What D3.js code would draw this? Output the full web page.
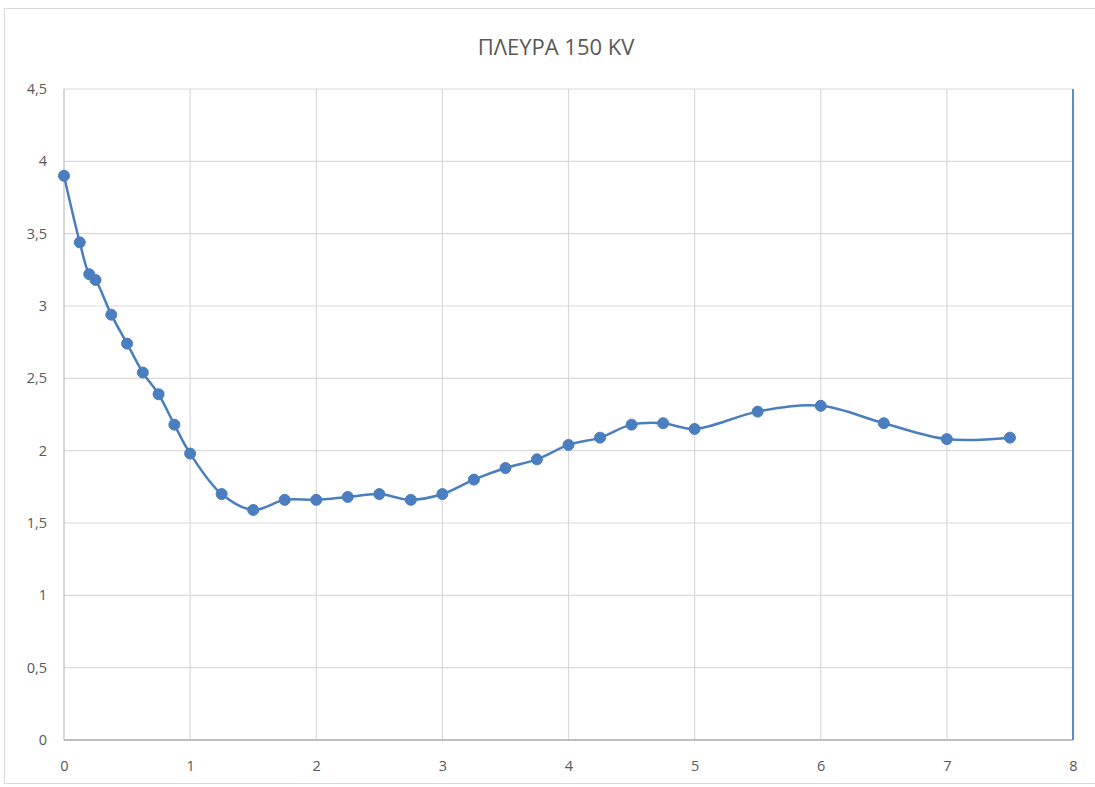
<!DOCTYPE html>
<html>
<head>
<meta charset="utf-8">
<script src="https://cdn.jsdelivr.net/npm/d3@7/dist/d3.min.js"></script>
<style>
  body { margin: 0; background: #fff; }
  svg { display: block; font-family: "Open Sans", "Liberation Sans", sans-serif; }
</style>
</head>
<body>
<div id="chart"></div>
<script>
  var title = "ΠΛΕΥΡΑ 150 KV";
  var xValues = [0, 0.125, 0.2, 0.25, 0.375, 0.5, 0.625, 0.75, 0.875, 1,
    1.25, 1.5, 1.75, 2, 2.25, 2.5, 2.75, 3, 3.25, 3.5, 3.75, 4, 4.25,
    4.5, 4.75, 5, 5.5, 6, 6.5, 7, 7.5];
  var yValues = [3.9, 3.44, 3.22, 3.18, 2.94, 2.74, 2.54, 2.39, 2.18, 1.98,
    1.7, 1.59, 1.66, 1.66, 1.68, 1.7, 1.66, 1.7, 1.8, 1.88, 1.94, 2.04, 2.09,
    2.18, 2.19, 2.15, 2.27, 2.31, 2.19, 2.08, 2.09];
  var xTicks = [0, 1, 2, 3, 4, 5, 6, 7, 8];
  var yTicks = [0, 0.5, 1, 1.5, 2, 2.5, 3, 3.5, 4, 4.5];

  var W = 1095, H = 787;
  var margin = { left: 64, right: 22, top: 89, bottom: 47 };
  var blue = "#4a7ebf";

  var svg = d3.select("#chart").append("svg")
    .attr("width", W)
    .attr("height", H);

  // outer chart frame
  svg.append("rect")
    .attr("x", 4.5).attr("y", 8.5)
    .attr("width", W + 10).attr("height", H - 12)
    .attr("fill", "none")
    .attr("stroke", "#d9d9d9");

  var x = d3.scaleLinear().domain([0, 8]).range([margin.left, W - margin.right]);
  var y = d3.scaleLinear().domain([0, 4.5]).range([H - margin.bottom, margin.top]);

  svg.append("text")
    .attr("x", 556).attr("y", 55)
    .attr("text-anchor", "middle")
    .attr("fill", "#595959")
    .style("font-size", "22px")
    .text(title);

  var grid = svg.append("g");
  grid.selectAll(".hg")
    .data(yTicks.filter(function (d) { return d > 0; }))
    .enter().append("line")
    .attr("x1", x(0)).attr("x2", x(8))
    .attr("y1", function (d) { return y(d); })
    .attr("y2", function (d) { return y(d); })
    .attr("stroke", "#d9d9d9")
    .attr("stroke-width", 1.2);
  grid.selectAll(".vg")
    .data(xTicks.filter(function (d) { return d > 0 && d < 8; }))
    .enter().append("line")
    .attr("x1", function (d) { return x(d); })
    .attr("x2", function (d) { return x(d); })
    .attr("y1", y(4.5)).attr("y2", y(0))
    .attr("stroke", "#d9d9d9")
    .attr("stroke-width", 1.2);

  // axes lines
  svg.append("line")
    .attr("x1", x(0)).attr("x2", x(0))
    .attr("y1", y(4.5)).attr("y2", y(0))
    .attr("stroke", "#c8c8c8").attr("stroke-width", 1.5);
  svg.append("line")
    .attr("x1", x(0)).attr("x2", x(8))
    .attr("y1", y(0)).attr("y2", y(0))
    .attr("stroke", "#bfbfbf").attr("stroke-width", 2);
  svg.append("line")
    .attr("x1", x(8)).attr("x2", x(8))
    .attr("y1", y(4.5)).attr("y2", y(0))
    .attr("stroke", "#5b8ad0").attr("stroke-width", 2);

  var fmt = function (d) { return String(d).replace(".", ","); };

  var xAxis = svg.append("g")
    .attr("transform", "translate(0," + y(0) + ")")
    .call(d3.axisBottom(x).tickValues(xTicks).tickSize(0).tickPadding(21).tickFormat(fmt));
  var yAxis = svg.append("g")
    .attr("transform", "translate(" + x(0) + ",0)")
    .call(d3.axisLeft(y).tickValues(yTicks).tickSize(0).tickPadding(17).tickFormat(fmt));
  [xAxis, yAxis].forEach(function (a) {
    a.select(".domain").remove();
    a.selectAll("text")
      .attr("fill", "#595959")
      .style("font-size", "14.5px")
      .style("font-family", "\"Open Sans\", \"Liberation Sans\", sans-serif");
  });

  var pts = xValues.map(function (d, i) { return [d, yValues[i]]; });

  var line = d3.line()
    .x(function (d) { return x(d[0]); })
    .y(function (d) { return y(d[1]); })
    .curve(d3.curveCatmullRom.alpha(0.5));

  svg.append("path")
    .datum(pts)
    .attr("d", line)
    .attr("fill", "none")
    .attr("stroke", blue)
    .attr("stroke-width", 2.5);

  svg.append("g").selectAll("circle")
    .data(pts)
    .enter().append("circle")
    .attr("cx", function (d) { return x(d[0]); })
    .attr("cy", function (d) { return y(d[1]); })
    .attr("r", 5.5)
    .attr("fill", blue)
    .attr("stroke", blue)
    .attr("stroke-width", 1);
</script>
</body>
</html>
